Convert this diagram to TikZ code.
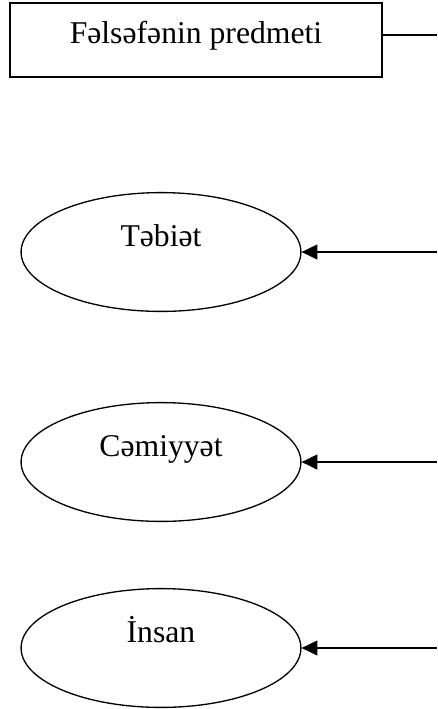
\documentclass[tikz,border=0pt]{standalone}
\usepackage{fontspec}
\setmainfont{Liberation Serif}
\usetikzlibrary{shapes.geometric,arrows.meta}
\tikzset{
    subject-box/.style = {draw, line width=0.6pt, rectangle, minimum width=140.9pt, minimum height=28pt, inner sep=0pt, text height=8pt, text depth=5pt, font=\fontsize{12}{14}\selectfont},
    topic-ellipse/.style = {draw, line width=0.5pt, ellipse, minimum width=106pt, minimum height=45pt, inner sep=0pt, text height=8pt, text depth=12pt, font=\fontsize{12}{14}\selectfont},
    link-arrow/.style = {-{Triangle[length=6pt,width=5.6pt]}, line width=0.8pt},
}
\begin{document}
\begin{tikzpicture}[x=0.3788pt, y=-0.3788pt]
\useasboundingbox (0,0) rectangle (437,709);
\node[subject-box] (subject) at (196,40) {Fəlsəfənin predmeti};
\coordinate (subject-end) at (437,35);
\draw[line width=0.5pt] (subject.east |- subject-end) -- (subject-end);

\node[topic-ellipse] (nature) at (161,252) {Təbiət};
\node[topic-ellipse] (society) at (161,462) {Cəmiyyət};
\node[topic-ellipse] (human) at (161,648) {İnsan};

\coordinate (nature-in) at (437,252);
\coordinate (society-in) at (437,462);
\coordinate (human-in) at (437,648);
\draw[link-arrow] (nature-in) -- (nature);
\draw[link-arrow] (society-in) -- (society);
\draw[link-arrow] (human-in) -- (human);
\end{tikzpicture}
\end{document}
